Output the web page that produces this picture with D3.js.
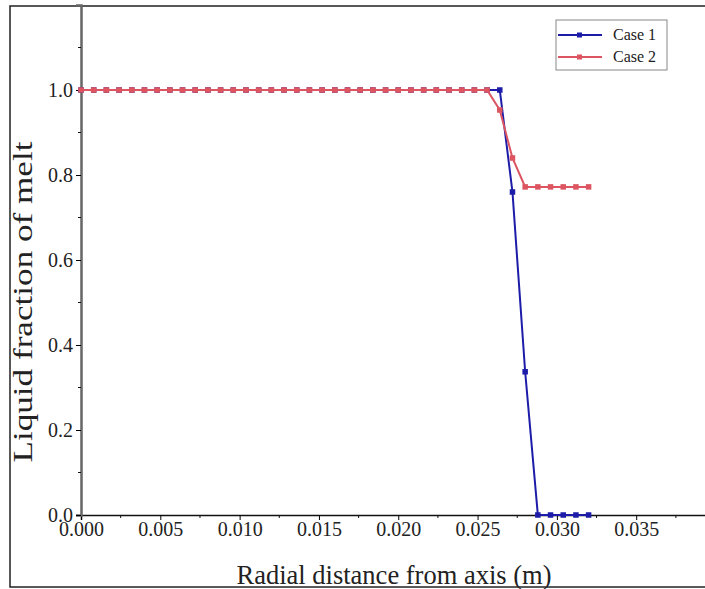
<!DOCTYPE html>
<html>
<head>
<meta charset="utf-8">
<script src="https://cdn.jsdelivr.net/npm/d3@7"></script>
<style>
  body { margin: 0; background: #fff; }
  svg { display: block; }
</style>
</head>
<body>
<script>
// radial positions (m)
const radialX = [0, 0.0008, 0.0016, 0.0024, 0.0032, 0.004, 0.0048, 0.0056, 0.0064, 0.0072,
  0.008, 0.0088, 0.0096, 0.0104, 0.0112, 0.012, 0.0128, 0.0136, 0.0144, 0.0152,
  0.016, 0.0168, 0.0176, 0.0184, 0.0192, 0.02, 0.0208, 0.0216, 0.0224, 0.0232,
  0.024, 0.0248, 0.0256, 0.0264, 0.0272, 0.028, 0.0288, 0.0296, 0.0304, 0.0312, 0.032];

const case1 = [1, 1, 1, 1, 1, 1, 1, 1, 1, 1,
  1, 1, 1, 1, 1, 1, 1, 1, 1, 1,
  1, 1, 1, 1, 1, 1, 1, 1, 1, 1,
  1, 1, 1, 1, 0.76, 0.337, 0, 0, 0, 0, 0];

const case2 = [1, 1, 1, 1, 1, 1, 1, 1, 1, 1,
  1, 1, 1, 1, 1, 1, 1, 1, 1, 1,
  1, 1, 1, 1, 1, 1, 1, 1, 1, 1,
  1, 1, 1, 0.953, 0.84, 0.772, 0.772, 0.772, 0.772, 0.772, 0.772];

const seriesNames = ["Case 1", "Case 2"];
const xMajorTicks = [0, 0.005, 0.01, 0.015, 0.02, 0.025, 0.03, 0.035];
const xMinorTicks = [0.0025, 0.0075, 0.0125, 0.0175, 0.0225, 0.0275, 0.0325, 0.0375];
const yMajorTicks = [0, 0.2, 0.4, 0.6, 0.8, 1.0];
const yMinorTicks = [0.1, 0.3, 0.5, 0.7, 0.9, 1.1];

const width = 705, height = 589;
const colors = ["#1c1ca8", "#dc5561"];
const font = "'Liberation Serif', 'Times New Roman', serif";

const svg = d3.select("body").append("svg")
  .attr("width", width)
  .attr("height", height);

// outer frame of the picture
svg.append("rect")
  .attr("x", 10).attr("y", 6)
  .attr("width", 700).attr("height", 581)
  .attr("fill", "none")
  .attr("stroke", "#222")
  .attr("stroke-width", 1.5);

const x = d3.scaleLinear().domain([0, 0.0394]).range([81, 706]);
const y = d3.scaleLinear().domain([0, 1.2]).range([515, 5]);

// x axis
const xAxis = svg.append("g").attr("transform", `translate(0,${y(0)})`);
xAxis.call(d3.axisBottom(x).tickValues(xMajorTicks).tickSize(5).tickPadding(2)
    .tickFormat(d3.format(".3f")))
  .call(g => g.select(".domain").attr("stroke", "#111").attr("stroke-width", 1.5))
  .call(g => g.selectAll("text").attr("font-family", font).attr("font-size", 20).attr("fill", "#222"));
xAxis.selectAll(".minor")
  .data(xMinorTicks)
  .join("line")
  .attr("class", "minor")
  .attr("x1", d => x(d)).attr("x2", d => x(d))
  .attr("y1", 0).attr("y2", 3)
  .attr("stroke", "#111");

// y axis
const yAxis = svg.append("g").attr("transform", `translate(${x(0)},0)`);
yAxis.call(d3.axisLeft(y).tickValues(yMajorTicks).tickSize(5).tickPadding(3)
    .tickFormat(d3.format(".1f")))
  .call(g => g.select(".domain").attr("stroke", "#666").attr("stroke-width", 2.5))
  .call(g => g.selectAll("text").attr("font-family", font).attr("font-size", 20).attr("fill", "#222"));
yAxis.selectAll(".minor")
  .data(yMinorTicks)
  .join("line")
  .attr("class", "minor")
  .attr("x1", 0).attr("x2", -3)
  .attr("y1", d => y(d)).attr("y2", d => y(d))
  .attr("stroke", "#111");

// axis titles
svg.append("text")
  .attr("x", 394).attr("y", 584)
  .attr("text-anchor", "middle")
  .attr("font-family", font)
  .attr("font-size", 26.5)
  .attr("fill", "#222")
  .text("Radial distance from axis (m)");

// the y title is drawn stretched along its length, like the source
svg.append("text")
  .attr("transform", "translate(32,302) rotate(-90)")
  .attr("text-anchor", "middle")
  .attr("font-family", font)
  .attr("font-size", 27)
  .attr("textLength", 321)
  .attr("lengthAdjust", "spacingAndGlyphs")
  .attr("fill", "#222")
  .text("Liquid fraction of melt");

// series
const series = [case1, case2].map((vals, i) => ({
  name: seriesNames[i],
  color: colors[i],
  points: radialX.map((r, j) => ({ r, v: vals[j] }))
}));

const line = d3.line().x(d => x(d.r)).y(d => y(d.v));

const sg = svg.append("g")
  .selectAll("g")
  .data(series)
  .join("g");

sg.append("path")
  .attr("d", d => line(d.points))
  .attr("fill", "none")
  .attr("stroke", d => d.color)
  .attr("stroke-width", 2);

sg.selectAll("rect")
  .data(d => d.points.map(p => ({ ...p, color: d.color })))
  .join("rect")
  .attr("x", d => x(d.r) - 2.75)
  .attr("y", d => y(d.v) - 2.75)
  .attr("width", 5.5)
  .attr("height", 5.5)
  .attr("fill", d => d.color);

// legend
const legend = svg.append("g").attr("transform", "translate(556,20)");
legend.append("rect")
  .attr("width", 111).attr("height", 50)
  .attr("fill", "#fff")
  .attr("stroke", "#888");

const item = legend.selectAll("g")
  .data(series)
  .join("g")
  .attr("transform", (d, i) => `translate(0,${15 + i * 22})`);
item.append("line")
  .attr("x1", 2).attr("x2", 46)
  .attr("stroke", d => d.color)
  .attr("stroke-width", 2);
item.append("rect")
  .attr("x", 21).attr("y", -2.5)
  .attr("width", 5).attr("height", 5)
  .attr("fill", d => d.color);
item.append("text")
  .attr("x", 57).attr("y", 5)
  .attr("font-family", font)
  .attr("font-size", 16)
  .attr("fill", "#222")
  .text(d => d.name);
</script>
</body>
</html>
